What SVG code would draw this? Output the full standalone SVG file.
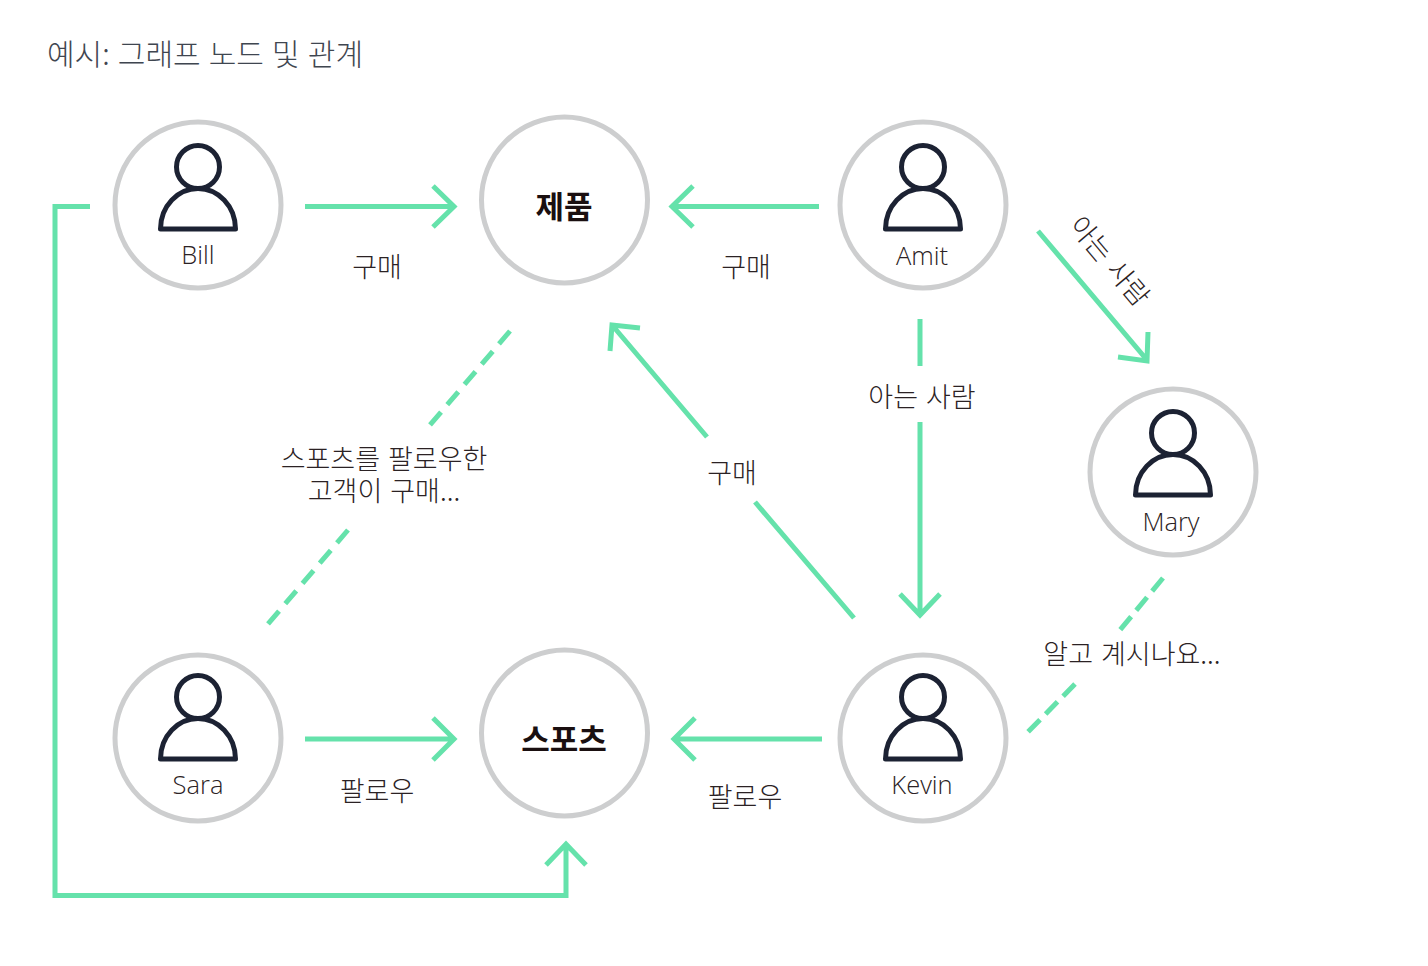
<svg xmlns="http://www.w3.org/2000/svg" width="1428" height="966" viewBox="0 0 1428 966">
<style>
text{font-family:"Noto Sans CJK KR","Noto Sans",sans-serif;fill:#2b2224;text-anchor:middle;font-weight:300}
.n{font-family:"Open Sans","Noto Sans",sans-serif;font-size:25.500px;font-weight:300;fill:#2b2224}
.l{font-size:27px;word-spacing:2px}
.b{font-size:31px;font-weight:700;fill:#1a0f10}
.ring{fill:#fff;stroke:#cdcecf;stroke-width:5}
.ic{fill:none;stroke:#1c2233;stroke-width:5;stroke-linejoin:round}
.c{fill:none;stroke:#65e2ab;stroke-width:5}
.d{stroke-dasharray:17 9.6}
.e{stroke-dasharray:17 8}
</style>
<defs>
<g id="person">
<circle cx="0" cy="-40" r="21.500" class="ic"/>
<path d="M-37.500 22H37.500C37.500-1 20-18.500 0-18.500S-37.500-1-37.500 22Z" class="ic"/>
</g>
</defs>
<text x="47" y="65" style="font-size:30px;word-spacing:1.500px;text-anchor:start;fill:#3f4650">예시: 그래프 노드 및 관계</text>
<g id="connectors">
<path class="c" d="M305 206.500H453M433 186L454 206.500L433 227"/>
<path class="c" d="M819 206.500H672M693 186L672 206.500L693 227"/>
<path class="c" d="M305 739H453M433 718L454 739L433 760"/>
<path class="c" d="M822 739H674M695 718L674 739L695 760"/>
<path class="c" d="M920 319V366M920 422V614M900 594L920 615L940 594"/>
<path class="c" d="M1038 231L1147 360M1148 332L1147 361L1118 357"/>
<path class="c" d="M707 437L612 325M610 351L612 325L640 328M854 618L755 502"/>
<path class="c" d="M90 206.500H55V895.500H566V845M546 865L566 844L586 865"/>
<path class="c d" d="M510 331L430 425M348 530L268 624"/>
<path class="c e" d="M1163 578L1120 630M1075 684L1028 732"/>
</g>
<g id="bill"><circle class="ring" cx="198" cy="205" r="83"/><use href="#person" x="198" y="207"/><text class="n" x="198" y="264">Bill</text></g>
<g id="product"><circle class="ring" cx="564.500" cy="200" r="83"/><text class="b" x="564" y="218">제품</text></g>
<g id="amit"><circle class="ring" cx="923" cy="205" r="83"/><use href="#person" x="923" y="207"/><text class="n" x="922" y="265">Amit</text></g>
<g id="mary"><circle class="ring" cx="1173" cy="472" r="83"/><use href="#person" x="1173" y="473"/><text class="n" x="1171" y="531">Mary</text></g>
<g id="sara"><circle class="ring" cx="198" cy="738" r="83"/><use href="#person" x="198" y="737"/><text class="n" x="198" y="794">Sara</text></g>
<g id="sports"><circle class="ring" cx="564.500" cy="733" r="83"/><text class="b" x="564" y="751">스포츠</text></g>
<g id="kevin"><circle class="ring" cx="923" cy="738" r="83"/><use href="#person" x="923" y="737"/><text class="n" x="922" y="794">Kevin</text></g>
<g id="labels">
<text class="l" x="377" y="277">구매</text>
<text class="l" x="746" y="277">구매</text>
<text class="l" x="732" y="483">구매</text>
<text class="l" x="922" y="407">아는 사람</text>
<text class="l" transform="translate(1110 261) rotate(50)" x="0" y="10">아는 사람</text>
<text class="l" x="384" y="469"><tspan x="384">스포츠를 팔로우한</tspan><tspan x="384" dy="32">고객이 구매...</tspan></text>
<text class="l" x="377" y="801">팔로우</text>
<text class="l" x="745" y="807">팔로우</text>
<text class="l" x="1132" y="664">알고 계시나요...</text>
</g>
</svg>
